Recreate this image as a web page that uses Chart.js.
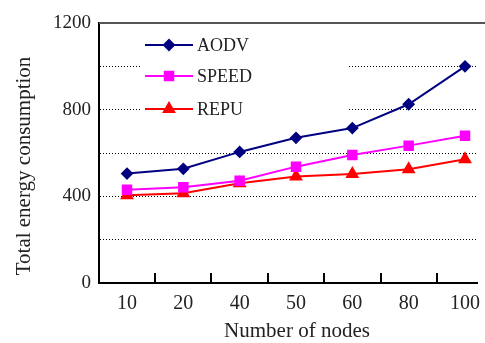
<!DOCTYPE html>
<html>
<head>
<meta charset="utf-8">
<script src="https://cdn.jsdelivr.net/npm/chart.js@4.4.0/dist/chart.umd.min.js"></script>
<style>
  body { margin: 0; background: #fff; }
  canvas { display: block; }
</style>
</head>
<body>
<canvas id="myChart" width="485" height="343"></canvas>
<script>
// dados
const nodes = ['10', '20', '40', '50', '60', '80', '100']
const aodv = [505, 527, 605, 670, 715, 825, 1000]
const speed = [430, 442, 472, 537, 591, 634, 680]
const repu = [405, 414, 460, 491, 503, 525, 571]
const yTicks = [0, 400, 800, 1200]

const serif = 'Liberation Serif'
const yTitle = 'Total energy consumption'
const xTitle = 'Number of nodes'

// legenda desenhada dentro da área do gráfico (linha + marcador)
const insideLegend = {
    id: 'insideLegend',
    afterDraw(chart) {
        const ctx = chart.ctx
        ctx.save()
        ctx.fillStyle = '#fff'
        ctx.fillRect(140, 35, 207, 86)
        const rows = [45, 76, 109]
        chart.data.datasets.forEach((ds, i) => {
            const y = rows[i]
            ctx.strokeStyle = ds.borderColor
            ctx.lineWidth = 2
            ctx.beginPath()
            ctx.moveTo(145, y)
            ctx.lineTo(193, y)
            ctx.stroke()
            ctx.fillStyle = ds.borderColor
            Chart.helpers.drawPoint(ctx, {
                pointStyle: ds.pointStyle,
                radius: ds.pointRadius,
                borderWidth: 1
            }, 169, y)
            ctx.fillStyle = '#222'
            ctx.font = '18px "' + serif + '"'
            ctx.textBaseline = 'middle'
            ctx.textAlign = 'left'
            ctx.fillText(ds.label, 197, y + 1)
        })
        // títulos dos eixos
        ctx.font = '21px "' + serif + '"'
        ctx.textAlign = 'center'
        ctx.textBaseline = 'middle'
        ctx.fillText(xTitle, 297, 331)
        ctx.translate(24, 166)
        ctx.rotate(-Math.PI / 2)
        ctx.fillText(yTitle, 0, 0)
        ctx.restore()
    },
    beforeDatasetsDraw(chart) {
        // moldura de cima e marcas do eixo x (entre as categorias)
        const ctx = chart.ctx
        const area = chart.chartArea
        const x = chart.scales.x
        ctx.save()
        ctx.strokeStyle = '#555'
        ctx.lineWidth = 2
        ctx.beginPath()
        ctx.moveTo(area.left, area.top)
        ctx.lineTo(chart.width, area.top)
        ctx.stroke()
        ctx.strokeStyle = '#000'
        ctx.lineWidth = 2
        for (let i = 1; i < nodes.length; i++) {
            const px = Math.round(x.getPixelForValue(i - 0.5))
            ctx.beginPath()
            ctx.moveTo(px, area.bottom)
            ctx.lineTo(px, area.bottom - 10)
            ctx.stroke()
        }
        ctx.restore()
    }
}

function makeSet(label, data, color, style, r) {
    return {
        label: label,
        data: data.map((v, i) => ({ x: i, y: v })),
        borderColor: color,
        backgroundColor: color,
        pointBackgroundColor: color,
        pointBorderColor: color,
        pointStyle: style,
        pointRadius: r,
        pointHoverRadius: r,
        borderWidth: 2,
        tension: 0
    }
}

const ctx = document.getElementById('myChart').getContext('2d')
const myChart = new Chart(ctx, {
    type: 'line',
    data: {
        datasets: [
            makeSet('AODV', aodv, '#000080', 'rectRot', 5),
            makeSet('SPEED', speed, '#ff00ff', 'rect', 6),
            makeSet('REPU', repu, '#ff0000', 'triangle', 6)
        ]
    },
    options: {
        responsive: false,
        animation: false,
        clip: false,
        layout: { padding: { top: 23, right: 0, left: 0, bottom: 0 } },
        plugins: { legend: { display: false }, tooltip: { enabled: false } },
        scales: {
            x: {
                type: 'linear',
                min: -0.497,
                max: 6.213,
                grid: { display: false },
                border: { display: true, color: '#000', width: 2 },
                afterBuildTicks(scale) { scale.ticks = nodes.map((n, i) => ({ value: i })) },
                ticks: {
                    color: '#222',
                    font: { family: serif, size: 20 },
                    padding: 1,
                    maxRotation: 0,
                    autoSkip: false,
                    callback: v => nodes[v]
                },
                title: { display: false },
                afterFit(scale) {
                    scale.height = 60
                    scale.paddingLeft = 0
                    scale.paddingRight = 0
                }
            },
            y: {
                min: 0,
                max: 1200,
                ticks: {
                    stepSize: 200,
                    color: '#222',
                    padding: 8,
                    font: { family: serif, size: 19 },
                    callback: v => yTicks.includes(v) ? v : ''
                },
                grid: {
                    drawTicks: false,
                    lineWidth: 1,
                    color: c => (c.tick && (c.tick.value === 0 || c.tick.value === 1200)) ? 'rgba(0,0,0,0)' : '#000'
                },
                border: { display: true, color: '#000', width: 2, dash: [1, 2] },
                title: { display: false },
                afterFit(scale) { scale.width = 99 }
            }
        }
    },
    plugins: [insideLegend]
})
</script>
</body>
</html>
